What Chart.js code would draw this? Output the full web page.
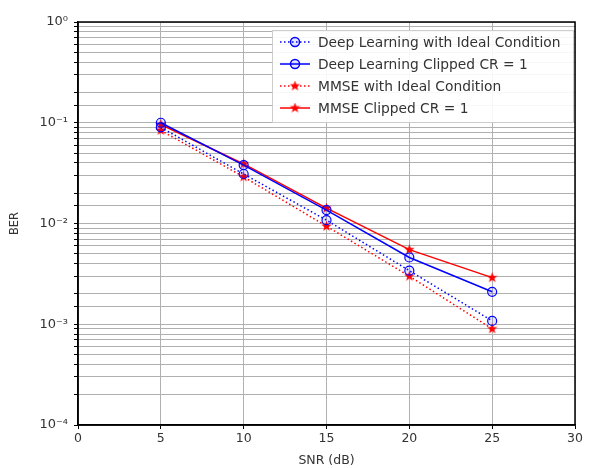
<!DOCTYPE html>
<html>
<head>
<meta charset="utf-8">
<script src="https://cdn.jsdelivr.net/npm/chart.js@4"></script>
<style>
  html, body { margin: 0; padding: 0; background: #fff; }
  #wrap { width: 593px; height: 468px; }
</style>
</head>
<body>
<div id="wrap"><canvas id="ber"></canvas></div>
<script>
const snr = [5, 10, 15, 20, 25];
const dlIdeal = [0.090, 0.031, 0.0108, 0.0034, 0.00108];
const dlClipped = [0.100, 0.038, 0.0136, 0.0046, 0.0021];
const mmseIdeal = [0.084, 0.029, 0.0094, 0.0030, 0.00090];
const mmseClipped = [0.096, 0.039, 0.0142, 0.0055, 0.0029];
const xTicks = [0, 5, 10, 15, 20, 25, 30];
const yDecades = ['10\u207B\u2074', '10\u207B\u00B3', '10\u207B\u00B2', '10\u207B\u00B9', '10\u2070'];

const FONT = 'DejaVu Sans';

// filled star marker
function starImg(size, color) {
  const c = document.createElement('canvas');
  c.width = size; c.height = size;
  const g = c.getContext('2d');
  const r = size / 2, cx = r, cy = r;
  g.beginPath();
  for (let i = 0; i < 10; i++) {
    const rad = i % 2 === 0 ? r : r * 0.42;
    const a = -Math.PI / 2 + i * Math.PI / 5;
    g.lineTo(cx + rad * Math.cos(a), cy + rad * Math.sin(a));
  }
  g.closePath();
  g.fillStyle = color;
  g.fill();
  return c;
}
const redStar = starImg(11, '#ff0000');

function pts(ys) { return snr.map((x, i) => ({ x: x, y: ys[i] })); }

// legend inside the axes, like matplotlib
const boxLegend = {
  id: 'boxLegend',
  afterDraw(chart) {
    const ctx = chart.ctx;
    const x0 = 272, y0 = 30, w = 301, h = 92;
    ctx.save();
    ctx.fillStyle = 'rgba(255,255,255,0.9)';
    ctx.strokeStyle = '#cccccc';
    ctx.lineWidth = 1;
    ctx.fillRect(x0, y0, w, h);
    ctx.strokeRect(x0 + 0.5, y0 + 0.5, w, h);
    ctx.font = '13.8px ' + FONT;
    ctx.textBaseline = 'middle';
    chart.data.datasets.forEach((ds, i) => {
      const y = y0 + 12 + i * 22;
      ctx.strokeStyle = ds.borderColor;
      ctx.lineWidth = 1.5;
      ctx.setLineDash(ds.borderDash || []);
      ctx.beginPath();
      ctx.moveTo(x0 + 8, y);
      ctx.lineTo(x0 + 38, y);
      ctx.stroke();
      ctx.setLineDash([]);
      if (ds.pointStyle === 'circle') {
        ctx.beginPath();
        ctx.arc(x0 + 23, y, 4.5, 0, Math.PI * 2);
        ctx.fillStyle = 'rgba(0,0,255,0.1)';
        ctx.fill();
        ctx.stroke();
      } else {
        ctx.drawImage(redStar, x0 + 23 - 5.5, y - 5.5);
      }
      ctx.fillStyle = '#333';
      ctx.fillText(ds.label, x0 + 46, y + 1);
    });
    // top and right frame of the axes
    const a = chart.chartArea;
    ctx.strokeStyle = '#000';
    ctx.lineWidth = 1.5;
    ctx.strokeRect(a.left, a.top, a.right - a.left, a.bottom - a.top);
    ctx.restore();
  }
};

new Chart(document.getElementById('ber'), {
  type: 'line',
  data: {
    datasets: [{
      label: 'Deep Learning with Ideal Condition',
      data: pts(dlIdeal),
      borderColor: '#0000ff',
      backgroundColor: 'rgba(0,0,255,0.1)',
      borderDash: [1.5, 2.5],
      borderWidth: 1.5,
      pointStyle: 'circle',
      pointRadius: 4.5,
      pointBorderWidth: 1.2
    }, {
      label: 'Deep Learning Clipped CR = 1',
      data: pts(dlClipped),
      borderColor: '#0000ff',
      backgroundColor: 'rgba(0,0,255,0.1)',
      borderWidth: 1.5,
      pointStyle: 'circle',
      pointRadius: 4.5,
      pointBorderWidth: 1.2
    }, {
      label: 'MMSE with Ideal Condition',
      data: pts(mmseIdeal),
      borderColor: '#ff0000',
      backgroundColor: '#ff0000',
      borderDash: [1.5, 2.5],
      borderWidth: 1.5,
      pointStyle: redStar
    }, {
      label: 'MMSE Clipped CR = 1',
      data: pts(mmseClipped),
      borderColor: '#ff0000',
      backgroundColor: '#ff0000',
      borderWidth: 1.5,
      pointStyle: redStar
    }]
  },
  options: {
    responsive: true,
    maintainAspectRatio: false,
    animation: false,
    layout: { padding: { left: 8, top: 22, right: 18, bottom: 0 } },
    scales: {
      x: {
        type: 'linear',
        min: 0,
        max: 30,
        afterBuildTicks: (s) => { s.ticks = xTicks.map(v => ({ value: v })); },
        afterFit: (s) => { s.height = 43; },
        grid: { color: '#b0b0b0', lineWidth: 1, tickColor: '#000', tickLength: 4 },
        border: { color: '#000', width: 1.5 },
        ticks: { color: '#333', font: { family: FONT, size: 12.5 }, padding: 2, maxRotation: 0 },
        title: { display: true, text: 'SNR (dB)', color: '#333', font: { family: FONT, size: 12.5 }, padding: { top: 0, bottom: 0 } }
      },
      y: {
        type: 'logarithmic',
        min: 1e-4,
        max: 1,
        afterFit: (s) => { s.width = 70; },
        grid: { color: '#b0b0b0', lineWidth: 1, tickColor: '#000', tickLength: 4 },
        border: { color: '#000', width: 1.5 },
        ticks: {
          autoSkip: false,
          color: '#333',
          font: { family: FONT, size: 13 },
          padding: 6,
          callback: function(value) {
            const e = Math.log10(value);
            if (Math.abs(e - Math.round(e)) < 1e-9) return yDecades[Math.round(e) + 4];
            return '';
          }
        },
        title: { display: true, text: 'BER', color: '#333', font: { family: FONT, size: 11.5 }, padding: { top: 0, bottom: 6 } }
      }
    },
    plugins: {
      legend: { display: false },
      tooltip: { enabled: false }
    }
  },
  plugins: [boxLegend]
});
</script>
</body>
</html>
